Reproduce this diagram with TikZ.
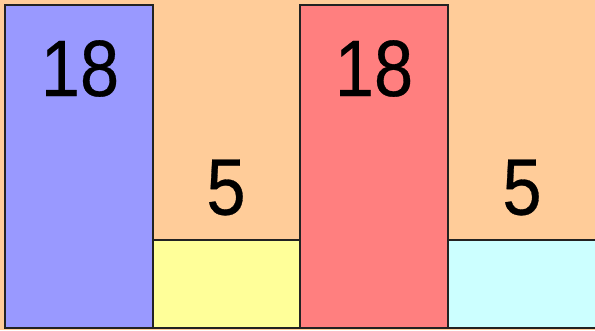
\documentclass[tikz,border=0pt]{standalone}
\usepackage{fontspec}
\setmainfont{Liberation Sans}
\newfontfamily\numfont[FakeBold=0.4]{Liberation Sans}
\definecolor{bgpeach}{HTML}{FFCC99}
\definecolor{barblue}{HTML}{9999FF}
\definecolor{baryellow}{HTML}{FFFF99}
\definecolor{barred}{HTML}{FF7F7F}
\definecolor{barcyan}{HTML}{CCFFFF}
\definecolor{edge}{HTML}{222222}
\newcommand{\numtxt}[1]{\scalebox{0.88}[1]{#1}}
\begin{document}
\begin{tikzpicture}[x=1pt,y=-1pt,
  bar/.style={draw=edge,line width=1.1pt},
  num/.style={font=\numfont\fontsize{80}{80}\selectfont,inner sep=0pt}]
\useasboundingbox (0,0) rectangle (595,330);
\fill[bgpeach] (0,0) rectangle (595,330);
\draw[bar,fill=barblue] (5,5) rectangle (153,328);
\draw[bar,fill=baryellow] (153,240) rectangle (300,328);
\draw[bar,fill=barred] (300,5) rectangle (448,328);
\draw[bar,fill=barcyan] (448,240) rectangle (596,328);
\node[num] (a) at (80,68.5) {\numtxt{18}};
\node[num] (b) at (226,187.5) {\numtxt{5}};
\node[num] (c) at (374,68.5) {\numtxt{18}};
\node[num] (d) at (522,187.5) {\numtxt{5}};
\end{tikzpicture}
\end{document}
